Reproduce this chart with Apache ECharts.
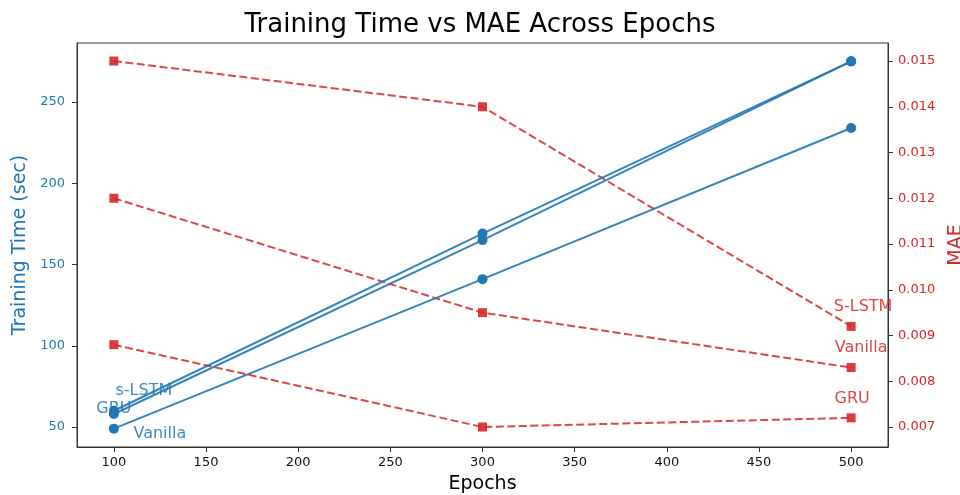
<!DOCTYPE html>
<html>
<head>
<meta charset="utf-8">
<script src="https://cdn.jsdelivr.net/npm/echarts@6/dist/echarts.min.js"></script>
<style>html,body{margin:0;padding:0;background:#fff}#c{width:960px;height:495px}</style>
</head>
<body>
<div id="c"></div>
<script>
const epochs = [100, 300, 500];
const timeVanilla = [49, 141, 234];
const timeGRU = [58, 165, 275];
const timeSLSTM = [60, 169, 275];
const maeSLSTM = [0.0150, 0.0140, 0.0092];
const maeVanilla = [0.0120, 0.0095, 0.0083];
const maeGRU = [0.0088, 0.0070, 0.0072];
const xTicks = [100, 150, 200, 250, 300, 350, 400, 450, 500];
const timeTicks = [50, 100, 150, 200, 250];
const maeTicks = [0.007, 0.008, 0.009, 0.010, 0.011, 0.012, 0.013, 0.014, 0.015];

const BLUE = '#1f77b4', RED = '#d62728';
const FONT = 'DejaVu Sans';

function mk(values, labelIdx, labelText, offset, color) {
  return epochs.map((e, i) => {
    const d = { value: [e, values[i]] };
    if (i === labelIdx) {
      d.label = { show: true, formatter: labelText, position: 'inside', offset: offset,
        color: color, fontSize: 16, fontFamily: FONT, opacity: 0.85 };
    }
    return d;
  });
}

const blueBase = { type: 'line', yAxisIndex: 0, symbol: 'circle', symbolSize: 10,
  lineStyle: { color: BLUE, width: 2, opacity: 0.9 }, itemStyle: { color: BLUE },
  label: { show: false }, animation: false, z: 3 };
const redBase = { type: 'line', yAxisIndex: 1, symbol: 'rect', symbolSize: 9,
  lineStyle: { color: RED, width: 2, type: [8, 3.5], opacity: 0.85 }, itemStyle: { color: RED, opacity: 0.9 },
  label: { show: false }, animation: false, z: 2 };

const chart = echarts.init(document.getElementById('c'), null, { renderer: 'canvas' });
chart.setOption({
  backgroundColor: '#fff',
  title: { text: 'Training Time vs MAE Across Epochs', left: 'center', top: 7,
    textStyle: { fontFamily: FONT, fontSize: 26, fontWeight: 'normal', color: '#000' } },
  grid: { left: 77, right: 72, top: 43, bottom: 48, show: true, borderColor: '#333', borderWidth: 1,
    containLabel: false, outerBoundsMode: 'none' },
  xAxis: { type: 'value', min: 80, max: 520, name: 'Epochs', nameLocation: 'middle', nameGap: 28,
    nameTextStyle: { fontFamily: FONT, fontSize: 19, color: '#000' },
    axisLine: { show: true, lineStyle: { color: '#333' } },
    axisTick: { show: true, length: 5, customValues: xTicks, lineStyle: { color: '#333' } },
    axisLabel: { customValues: xTicks, margin: 9, fontFamily: FONT, fontSize: 13, color: '#111' },
    splitLine: { show: false } },
  yAxis: [
    { type: 'value', min: 37.7, max: 286.3, position: 'left', name: 'Training Time (sec)',
      nameLocation: 'middle', nameRotate: 90, nameGap: 47,
      nameTextStyle: { fontFamily: FONT, fontSize: 19, color: BLUE },
      axisLine: { show: true, lineStyle: { color: '#333' } },
      axisTick: { show: true, length: 5, customValues: timeTicks, lineStyle: { color: '#333' } },
      axisLabel: { customValues: timeTicks, margin: 12, fontFamily: FONT, fontSize: 13, color: BLUE },
      splitLine: { show: false } },
    { type: 'value', min: 0.006563, max: 0.015394, position: 'right', name: 'MAE',
      nameLocation: 'middle', nameRotate: 90, nameGap: 57,
      nameTextStyle: { fontFamily: FONT, fontSize: 19, color: RED },
      axisLine: { show: true, lineStyle: { color: '#333' } },
      axisTick: { show: true, length: 5, customValues: maeTicks, lineStyle: { color: '#333' } },
      axisLabel: { customValues: maeTicks, margin: 10, fontFamily: FONT, fontSize: 13, color: RED,
        formatter: v => v.toFixed(3) },
      splitLine: { show: false } }
  ],
  series: [
    Object.assign({}, blueBase, { name: 'Vanilla time', data: mk(timeVanilla, 0, 'Vanilla', [46, 5], BLUE) }),
    Object.assign({}, blueBase, { name: 'GRU time', data: mk(timeGRU, 0, 'GRU', [0, -5], BLUE) }),
    Object.assign({}, blueBase, { name: 's-LSTM time', data: mk(timeSLSTM, 0, 's-LSTM', [30, -20], BLUE) }),
    Object.assign({}, redBase, { name: 'S-LSTM MAE', data: mk(maeSLSTM, 2, 'S-LSTM', [12, -20], RED) }),
    Object.assign({}, redBase, { name: 'Vanilla MAE', data: mk(maeVanilla, 2, 'Vanilla', [10, -20], RED) }),
    Object.assign({}, redBase, { name: 'GRU MAE', data: mk(maeGRU, 2, 'GRU', [1, -19], RED) })
  ]
});
</script>
</body>
</html>
